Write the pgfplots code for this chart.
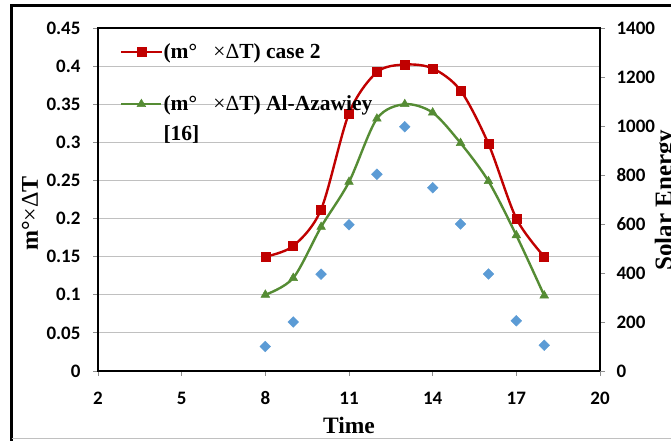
\documentclass[border=0pt]{standalone}
\usepackage{pgfplots}
\pgfplotsset{compat=1.18}
\usepackage{pgfplotstable}
\usepackage{fontspec}
\setmainfont{Liberation Serif}
\newfontfamily\tickfont{Carlito}

\definecolor{caseRed}{HTML}{C00000}
\definecolor{azGreen}{HTML}{558C34}
\definecolor{solarBlue}{HTML}{5B9BD5}
\definecolor{gridGray}{HTML}{C0C0C0}
\definecolor{tickGray}{HTML}{8C8C8C}

% hourly values: m-dot x Delta T (left axis) and solar energy (right axis)
\pgfplotstableread{
time case2 azawiey solar
8    0.150 0.100   100
9    0.164 0.122   200
10   0.212 0.189   395
11   0.338 0.248   597
12   0.392 0.331   803
13   0.402 0.350   997
14   0.397 0.339   748
15   0.368 0.299   600
16   0.298 0.249   396
17   0.200 0.178   205
18   0.150 0.099   105
}\datatable

\pgfplotsset{
  frame/.style={
    at={(98pt,70pt)}, anchor=south west,
    scale only axis, width=502pt, height=343pt,
    xmin=2, xmax=20,
    tick align=outside, major tick length=5pt,
    tick style={tickGray, line width=0.9pt},
    axis line style={black, line width=2.2pt},
    ticklabel style={font=\tickfont\bfseries\fontsize{19}{19}\selectfont},
    /pgf/number format/fixed,
    /pgf/number format/precision=2,
    /pgf/number format/assume math mode=true,
    /pgf/number format/1000 sep={},
    label style={font=\bfseries\fontsize{23.5}{25}\selectfont},
  },
  keystyle/.style={
    legend style={draw=none, fill=none, inner sep=0pt,
      anchor=north west,
      font=\bfseries\fontsize{21.5}{23}\selectfont,
      row sep=11.5pt, column sep=0pt, nodes={inner sep=1pt}},
    legend cell align=left,
    legend image code/.code={%
      \draw[mark repeat=2, mark phase=2, #1]
        plot coordinates {(0pt,0pt) (20pt,0pt) (40pt,0pt)};},
  },
}

\newcommand{\mdT}{(m°\hspace{0.75em}{\mdseries×Δ}T)}

\begin{document}
\begin{tikzpicture}[x=1pt,y=1pt]
\path[use as bounding box, clip] (0,0) rectangle (671,441);

% outer frame of the figure
\draw[black, line width=2.4pt] (11.5,0) -- (11.5,435.5) -- (680,435.5);
\draw[gridGray, line width=1.2pt] (11.5,2.5) -- (680,2.5);

\begin{axis}[
  frame, keystyle,
  ymin=0, ymax=0.45,
  xtick={2,5,8,11,14,17,20},
  ytick={0,0.05,0.1,0.15,0.2,0.25,0.3,0.35,0.4,0.45},
  scaled y ticks=false,
  xtick pos=bottom, ytick pos=left,
  ymajorgrids, grid style={gridGray, line width=1.2pt},
  xticklabel style={anchor=center, yshift=-22pt},
  yticklabel style={anchor=east, xshift=-9pt},
  xlabel={Time},
  xlabel style={at={(axis description cs:0.5,-0.159)}, anchor=center},
  ylabel={m°{\mdseries×Δ}T},
  ylabel style={at={(axis description cs:-0.1355,0.459)}, anchor=center,
    font=\bfseries\fontsize{24}{25}\selectfont},
  legend style={at={(axis description cs:0.0438,0.957)}},
]
\addplot[caseRed, line width=2.4pt, smooth, mark=square*,
  mark size=4.5pt, mark options={solid, line width=0.5pt}]
  table[x=time, y=case2] {\datatable};
\addlegendentry{\mdT{} case 2}

\addplot[azGreen, line width=2.4pt, smooth, mark=triangle*,
  mark size=5pt, mark options={solid, line width=0.5pt}]
  table[x=time, y=azawiey] {\datatable};
\end{axis}

\begin{axis}[
  frame, keystyle,
  ymin=0, ymax=1400,
  ytick={0,200,400,600,800,1000,1200,1400},
  axis y line*=right, axis x line=none,
  yticklabel style={anchor=west, xshift=8pt},
  ylabel={Solar Energy},
  ylabel style={at={(axis description cs:1.1319,0.4985)}, anchor=center,
    font=\bfseries\fontsize{25}{26}\selectfont},
  legend style={at={(axis description cs:0.0438,0.8054)}},
]
\addplot[only marks, mark=square*, mark size=3.8pt,
  mark options={rotate=45, fill=solarBlue, draw=solarBlue},
  forget plot]
  table[x=time, y=solar] {\datatable};

% key for the Al-Azawiey curve drawn on the left axis
\addlegendimage{azGreen, line width=2.4pt, mark=triangle*,
  mark size=5pt, mark options={solid, line width=0.5pt}}
\addlegendentry{\mdT{} Al-Azawiey}
\addlegendimage{empty legend}
\addlegendentry{[16]}
\end{axis}
\end{tikzpicture}
\end{document}
